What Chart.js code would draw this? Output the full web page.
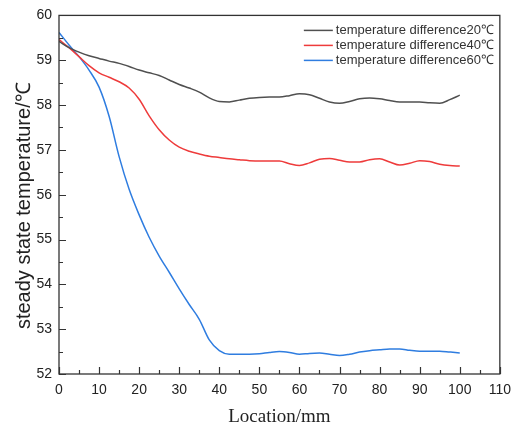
<!DOCTYPE html>
<html>
<head>
<meta charset="utf-8">
<script src="https://cdn.jsdelivr.net/npm/chart.js@4"></script>
<style>
  body { margin: 0; background: #fff; }
  #myChart { display: block; }
</style>
</head>
<body>
<canvas id="myChart" width="519" height="428"></canvas>
<script>
// positions le long de l'échantillon (mm)
const locations = [0, 2.5, 5, 7.5, 10, 12.5, 15, 17.5, 20, 22.5, 25, 27.5, 30, 32.5, 35, 37.5, 40, 42.5, 45, 47.5,
    50, 52.5, 55, 57.5, 60, 62.5, 65, 67.5, 70, 72.5, 75, 77.5, 80, 82.5, 85, 87.5, 90, 92.5, 95, 97.5, 100];

const temp20 = [59.42, 59.28, 59.18, 59.10, 59.04, 58.98, 58.93, 58.86, 58.78, 58.72, 58.66, 58.56, 58.46, 58.38, 58.29, 58.16, 58.08, 58.07, 58.11, 58.15,
    58.17, 58.18, 58.18, 58.21, 58.25, 58.23, 58.15, 58.07, 58.04, 58.08, 58.14, 58.16, 58.14, 58.10, 58.07, 58.07, 58.07, 58.05, 58.04, 58.12, 58.22];

const temp40 = [59.46, 59.28, 59.08, 58.88, 58.72, 58.62, 58.52, 58.38, 58.13, 57.76, 57.45, 57.22, 57.06, 56.97, 56.91, 56.86, 56.83, 56.80, 56.78, 56.76,
    56.75, 56.75, 56.75, 56.69, 56.65, 56.71, 56.79, 56.81, 56.77, 56.73, 56.73, 56.78, 56.80, 56.73, 56.66, 56.70, 56.76, 56.74, 56.68, 56.65, 56.64];

const temp60 = [59.62, 59.34, 59.08, 58.78, 58.40, 57.75, 56.85, 56.12, 55.55, 55.05, 54.63, 54.27, 53.90, 53.55, 53.22, 52.76, 52.52, 52.44, 52.44, 52.44,
    52.45, 52.48, 52.50, 52.48, 52.44, 52.46, 52.47, 52.44, 52.41, 52.44, 52.49, 52.52, 52.54, 52.56, 52.56, 52.53, 52.51, 52.51, 52.51, 52.49, 52.47];

const seriesLabels = ['temperature difference20℃', 'temperature difference40℃', 'temperature difference60℃'];
const seriesColors = ['#505050', '#ee3b3b', '#2f7de0'];
const xTicks = [0, 10, 20, 30, 40, 50, 60, 70, 80, 90, 100, 110];
const yTicks = [52, 53, 54, 55, 56, 57, 58, 59, 60];
const yTitle = 'steady state temperature/℃';

function points(values) {
    return values.map((v, i) => ({ x: locations[i], y: v }));
}

// cadre + graduations vers l'intérieur + titre de l'axe y
const cadrePlugin = {
    id: 'cadre',
    afterDraw(chart) {
        const ctx = chart.ctx;
        const a = chart.chartArea;
        const sx = chart.scales.x;
        const sy = chart.scales.y;
        ctx.save();
        ctx.strokeStyle = '#333';
        ctx.lineWidth = 1.3;
        ctx.strokeRect(a.left, a.top, a.right - a.left, a.bottom - a.top);
        ctx.lineWidth = 1.2;
        ctx.beginPath();
        for (let v = 0; v <= 110; v += 5) {
            const px = Math.round(sx.getPixelForValue(v)) + 0.5;
            const len = v % 10 === 0 ? 7 : 4;
            ctx.moveTo(px, a.bottom);
            ctx.lineTo(px, a.bottom - len);
        }
        for (let v = 52; v <= 60; v += 0.5) {
            const py = Math.round(sy.getPixelForValue(v)) + 0.5;
            const len = v % 1 === 0 ? 7 : 4;
            ctx.moveTo(a.left, py);
            ctx.lineTo(a.left + len, py);
        }
        ctx.stroke();

        // titre y, un peu décalé vers le bas comme l'original
        ctx.translate(24, (a.top + a.bottom) / 2 + 11);
        ctx.rotate(-Math.PI / 2);
        ctx.font = '20px "Liberation Sans", Arial, sans-serif';
        ctx.fillStyle = '#222';
        ctx.textAlign = 'center';
        ctx.textBaseline = 'middle';
        ctx.fillText(yTitle, 0, 0);
        ctx.restore();
    }
};

// légende dans le coin haut droit
const legendePlugin = {
    id: 'legende',
    afterDraw(chart) {
        const ctx = chart.ctx;
        const a = chart.chartArea;
        ctx.save();
        ctx.font = '13px "Liberation Sans", Arial, sans-serif';
        ctx.textBaseline = 'middle';
        chart.data.datasets.forEach((ds, i) => {
            const y = a.top + 15 + i * 15;
            ctx.strokeStyle = ds.borderColor;
            ctx.lineWidth = 1.5;
            ctx.beginPath();
            ctx.moveTo(a.right - 196, y);
            ctx.lineTo(a.right - 167, y);
            ctx.stroke();
            ctx.fillStyle = '#333';
            ctx.fillText(ds.label, a.right - 164, y);
        });
        ctx.restore();
    }
};

const graph = document.getElementById('myChart');
const myChart = new Chart(graph, {
    type: 'line',
    data: {
        datasets: seriesLabels.map((label, i) => ({
            label: label,
            data: points([temp20, temp40, temp60][i]),
            borderColor: seriesColors[i],
            borderWidth: 1.5,
            pointRadius: 0,
            fill: false,
            cubicInterpolationMode: 'monotone'
        }))
    },
    options: {
        responsive: false,
        animation: false,
        layout: { padding: { left: 0, top: 14, right: 13, bottom: 0 } },
        plugins: {
            legend: { display: false },
            tooltip: { enabled: false }
        },
        scales: {
            x: {
                type: 'linear',
                min: 0,
                max: 110,
                afterBuildTicks: s => { s.ticks = xTicks.map(v => ({ value: v })); },
                afterFit: s => { s.height = 54; },
                grid: { display: false, drawTicks: false, tickLength: 0 },
                border: { display: false },
                ticks: {
                    padding: 8,
                    color: '#222',
                    font: { family: '"Liberation Sans", Arial, sans-serif', size: 14 }
                },
                title: {
                    display: true,
                    text: 'Location/mm',
                    color: '#222',
                    padding: { top: 6, bottom: 0 },
                    font: { family: '"Liberation Serif", "Times New Roman", serif', size: 19 }
                }
            },
            y: {
                min: 52,
                max: 60,
                afterBuildTicks: s => { s.ticks = yTicks.map(v => ({ value: v })); },
                afterFit: s => { s.width = 59; },
                grid: { display: false, drawTicks: false, tickLength: 0 },
                border: { display: false },
                ticks: {
                    padding: 7,
                    color: '#222',
                    font: { family: '"Liberation Sans", Arial, sans-serif', size: 14 }
                },
                title: { display: false }
            }
        }
    },
    plugins: [cadrePlugin, legendePlugin]
});
</script>
</body>
</html>
